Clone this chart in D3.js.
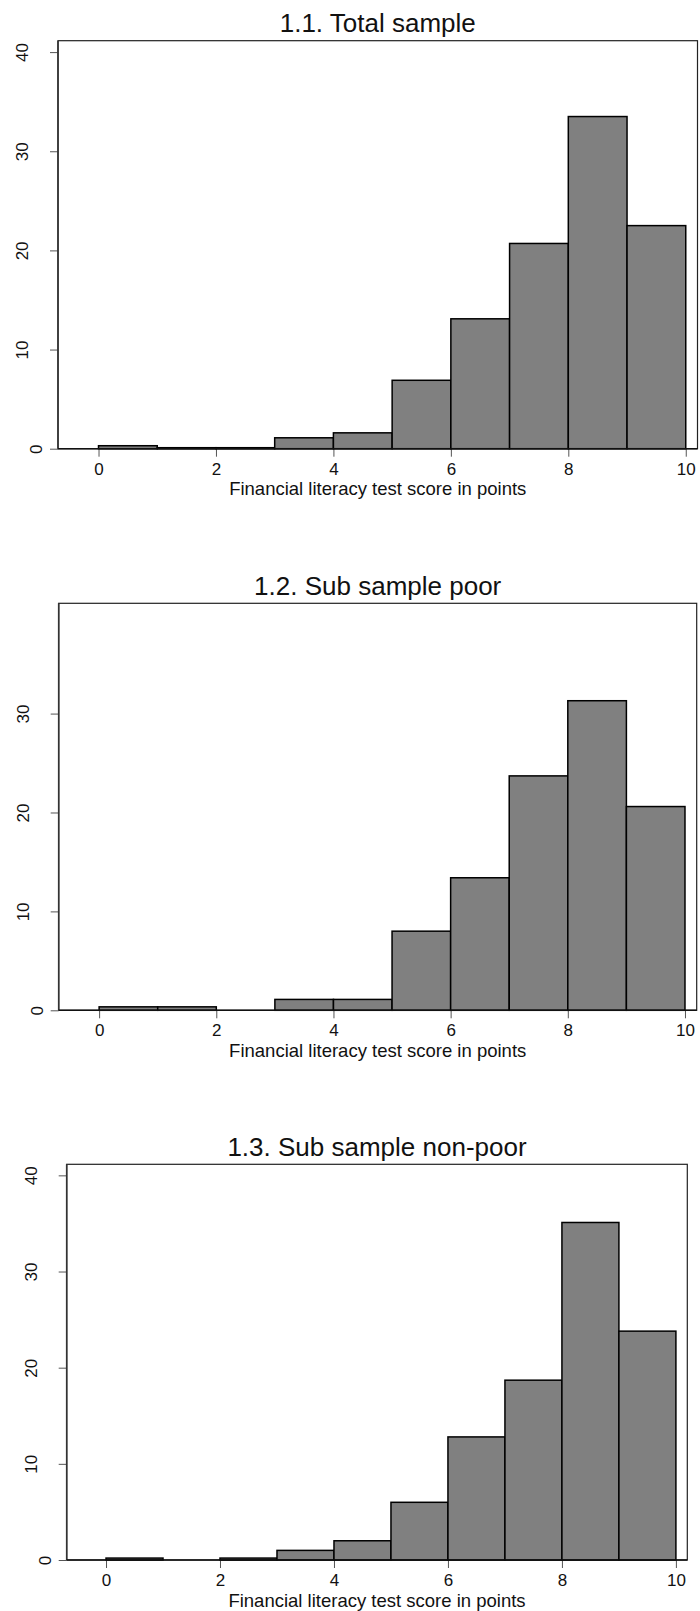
<!DOCTYPE html>
<html>
<head>
<meta charset="utf-8">
<script src="https://cdn.jsdelivr.net/npm/d3@7"></script>
<style>
	body { margin: 0; background: #fff; }
	svg { display: block; font-family: "Liberation Sans", Arial, sans-serif; }
</style>
</head>
<body>
<svg id="histograms"></svg>
<script>
// score bins: [0,1), [1,2) ... [9,10]
const scoreBins = [0, 1, 2, 3, 4, 5, 6, 7, 8, 9];
const xTicks = [0, 2, 4, 6, 8, 10];
const xAxisTitle = "Financial literacy test score in points";

const panelTitles = ["1.1. Total sample", "1.2. Sub sample poor", "1.3. Sub sample non-poor"];

// percent of respondents per bin
const totalPct   = [0.3, 0.1, 0.1, 1.1, 1.6, 6.9, 13.1, 20.7, 33.5, 22.5];
const poorPct    = [0.35, 0.35, 0, 1.1, 1.1, 8.0, 13.4, 23.7, 31.3, 20.6];
const nonPoorPct = [0.2, 0, 0.2, 1.0, 2.0, 6.0, 12.8, 18.7, 35.1, 23.8];

const yTicksTotal   = [0, 10, 20, 30, 40];
const yTicksPoor    = [0, 10, 20, 30];
const yTicksNonPoor = [0, 10, 20, 30, 40];

class HistogramPanel {
	constructor(svg, box, title, values, yTicks) {
		this.box = box;
		this.title = title;
		this.values = values;
		this.yTicks = yTicks;

		this.g = svg.append("g").attr("class", "panel");
		this.xScale = d3.scaleLinear().domain([-0.69, 10.2]).range([box.left, box.right]);
		this.yScale = d3.scaleLinear().domain([0, 41.15]).range([box.bottom, box.top]);
	}

	draw() {
		const b = this.box;

		// frame
		this.g.append("rect")
			.attr("x", b.left).attr("y", b.top)
			.attr("width", b.right - b.left).attr("height", b.bottom - b.top)
			.attr("fill", "none").attr("stroke", "#222").attr("stroke-width", 1.2);

		this.drawAxes();
		this.drawBars();

		// the axis lines sit over the frame, a bit heavier
		this.g.append("line")
			.attr("x1", b.left).attr("x2", b.left).attr("y1", b.top).attr("y2", b.bottom)
			.attr("stroke", "#333").attr("stroke-width", 1.6);
		this.g.append("line")
			.attr("x1", b.left).attr("x2", b.right).attr("y1", b.bottom).attr("y2", b.bottom)
			.attr("stroke", "#111").attr("stroke-width", 1.6);

		this.g.append("text")
			.attr("x", (b.left + b.right) / 2)
			.attr("y", b.top - 8.5)
			.attr("text-anchor", "middle")
			.attr("font-size", 26)
			.attr("fill", "#111")
			.text(this.title);

		this.g.append("text")
			.attr("x", (b.left + b.right) / 2)
			.attr("y", b.bottom + 46.5)
			.attr("text-anchor", "middle")
			.attr("font-size", 18.5)
			.attr("fill", "#111")
			.text(xAxisTitle);
	}

	drawAxes() {
		const b = this.box;

		const yAxis = this.g.append("g")
			.attr("transform", "translate(" + b.left + ",0)")
			.call(d3.axisLeft(this.yScale).tickValues(this.yTicks).tickSize(8).tickFormat(d3.format("d")));
		yAxis.select(".domain").remove();
		yAxis.selectAll(".tick line").attr("stroke", "#555");
		yAxis.selectAll(".tick text")
			.attr("font-size", 17)
			.attr("font-family", null)
			.attr("fill", "#111")
			.attr("text-anchor", "middle")
			.attr("dy", null)
			.attr("x", 0)
			.attr("y", function(d) { return d === 0 ? -16 : -30; })
			.attr("transform", "rotate(-90)");

		const xAxis = this.g.append("g")
			.attr("transform", "translate(0," + b.bottom + ")")
			.call(d3.axisBottom(this.xScale).tickValues(xTicks).tickSize(8).tickFormat(d3.format("d")));
		xAxis.select(".domain").remove();
		xAxis.selectAll(".tick line").attr("stroke", "#555");
		xAxis.selectAll(".tick text")
			.attr("font-size", 17)
			.attr("font-family", null)
			.attr("fill", "#111")
			.attr("dy", null)
			.attr("y", 26);
	}

	drawBars() {
		const data = scoreBins.map(function(s, i) { return { start: s, pct: this.values[i] }; }.bind(this))
			.filter(function(d) { return d.pct > 0; });

		this.g.selectAll(".bar")
			.data(data)
			.enter()
			.append("rect")
			.attr("class", "bar")
			.attr("x", function(d) { return this.xScale(d.start); }.bind(this))
			.attr("width", function(d) { return this.xScale(d.start + 1) - this.xScale(d.start); }.bind(this))
			.attr("y", function(d) { return this.yScale(d.pct); }.bind(this))
			.attr("height", function(d) { return this.yScale(0) - this.yScale(d.pct); }.bind(this))
			.attr("fill", "#808080")
			.attr("stroke", "#000")
			.attr("stroke-width", 1.5);
	}
}

const svg = d3.select("#histograms").attr("width", 700).attr("height", 1611);

const boxes = [
	{ left: 58,   right: 697.5, top: 40.7,   bottom: 448.7 },
	{ left: 58.7, right: 696.7, top: 603.3,  bottom: 1010.3 },
	{ left: 66.7, right: 687.3, top: 1164.3, bottom: 1560 }
];

new HistogramPanel(svg, boxes[0], panelTitles[0], totalPct, yTicksTotal).draw();
new HistogramPanel(svg, boxes[1], panelTitles[1], poorPct, yTicksPoor).draw();
new HistogramPanel(svg, boxes[2], panelTitles[2], nonPoorPct, yTicksNonPoor).draw();
</script>
</body>
</html>
